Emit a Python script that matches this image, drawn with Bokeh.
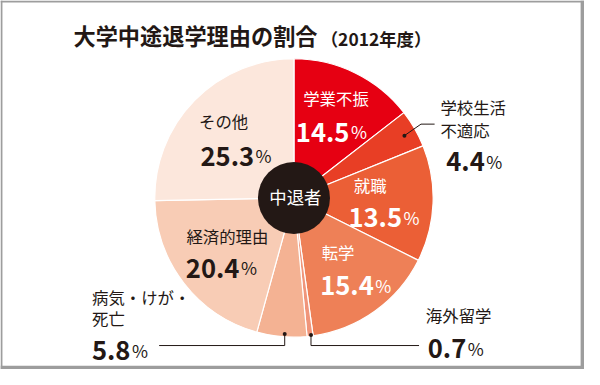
import numpy as np
from bokeh.plotting import figure
from bokeh.models import Range1d
from bokeh.core.properties import value
from bokeh.embed import file_html
from bokeh.resources import INLINE

# ---- data ----
categories = ["学業不振", "学校生活不適応", "就職", "転学", "海外留学", "病気・けが・死亡", "経済的理由", "その他"]
values = [14.5, 4.4, 13.5, 15.4, 0.7, 5.8, 20.4, 25.3]
colors = ["#E60012", "#E83E25", "#EB5F36", "#EE8057", "#F0957A", "#F4B293", "#F8CCB5", "#FCE7DC"]
label_lines = [["学業不振"], ["学校生活", "不適応"], ["就職"], ["転学"], ["海外留学"],
               ["病気・けが・", "死亡"], ["経済的理由"], ["その他"]]
title_text = "大学中途退学理由の割合"
subtitle_text = "（2012年度）"
center_text = "中退者"

# ---- layout (reference pixel coordinates, y downward) ----
W, H = 600, 385
FS = 0.965
DARK = "#231815"
FONT = value("Noto Sans CJK JP")

def Y(y):
    return H - y

def fpx(s):
    return f"{s * FS:.1f}px"

p = figure(width=584, height=369, output_backend="svg", toolbar_location=None,
           x_range=Range1d(0, W), y_range=Range1d(0, H), min_border=0)
p.axis.visible = False
p.grid.visible = False
p.outline_line_color = None
p.background_fill_color = "white"
p.border_fill_color = "white"

# frame
fc = "#9d9d9d"
p.quad(left=[0, 0, 596, 0], right=[2, 600, 600, 600],
       bottom=[Y(385), Y(2), Y(385), Y(385)], top=[Y(0), Y(0), Y(0), Y(381)],
       fill_color=fc, line_color=None)

# pie
cx, cy, R = 301.5, 206, 143
fr = np.cumsum([0] + values) / sum(values)
starts = np.pi / 2 - 2 * np.pi * fr[:-1]
ends = np.pi / 2 - 2 * np.pi * fr[1:]
p.wedge(x=cx, y=Y(cy), radius=R, start_angle=starts, end_angle=ends, direction="clock",
        fill_color=colors, line_color="white", line_width=1.2)
p.circle(x=[cx], y=[Y(cy)], radius=37, fill_color=DARK, line_color=None)

def txt(t, x, y, size, color=DARK, bold=False, baseline="middle", align="left"):
    p.text(x=[x], y=[Y(y)], text=[t], text_font=FONT, text_font_size=fpx(size),
           text_font_style="bold" if bold else "normal", text_color=color,
           text_baseline=baseline, text_align=align)

# title
txt(title_text, 75, 36, 23, bold=True)
txt(subtitle_text, 329, 39.5, 18, bold=True)
txt(center_text, 303, 204, 18, color="white", align="center")

# label placement: name line centers, number baseline, % x, color
place = [
    dict(x=311, ys=[102], nb=137, px=360, c="white"),
    dict(x=452, ys=[111.5, 135.5], nb=168, px=499, c=DARK),
    dict(x=363, ys=[193], nb=226, px=414, c="white"),
    dict(x=330, ys=[262.5], nb=297, px=385, c="white"),
    dict(x=437, ys=[328.5], nb=363, px=480, c=DARK),
    dict(x=94, ys=[309.5, 331], nb=365, px=135, c=DARK),
    dict(x=191, ys=[245.5], nb=279, px=247, c=DARK),
    dict(x=204, ys=[126], nb=162, px=262, c=DARK),
]
for lines, v, pl in zip(label_lines, values, place):
    for ln, yy in zip(lines, pl["ys"]):
        txt(ln, pl["x"], yy, 17, color=pl["c"])
    txt(f"{v:.1f}", pl["px"] - 1.5, pl["nb"] + 0.5, 26.5, color=pl["c"], bold=True,
        baseline="alphabetic", align="right")
    txt("%", pl["px"], pl["nb"], 18, color=pl["c"], baseline="alphabetic")

# leader lines
p.line(x=[415, 432, 446], y=[Y(141), Y(129), Y(129)], line_color=DARK, line_width=1)
p.line(x=[292, 292, 163], y=[Y(348), Y(360), Y(360)], line_color=DARK, line_width=1)
p.line(x=[319, 319, 430], y=[Y(349), Y(360), Y(360)], line_color=DARK, line_width=1)
p.scatter(x=[415, 292, 319], y=[Y(141), Y(348), Y(349)], size=4, marker="circle",
          fill_color=DARK, line_color=None)

open("out.html", "w").write(file_html(p, INLINE))
